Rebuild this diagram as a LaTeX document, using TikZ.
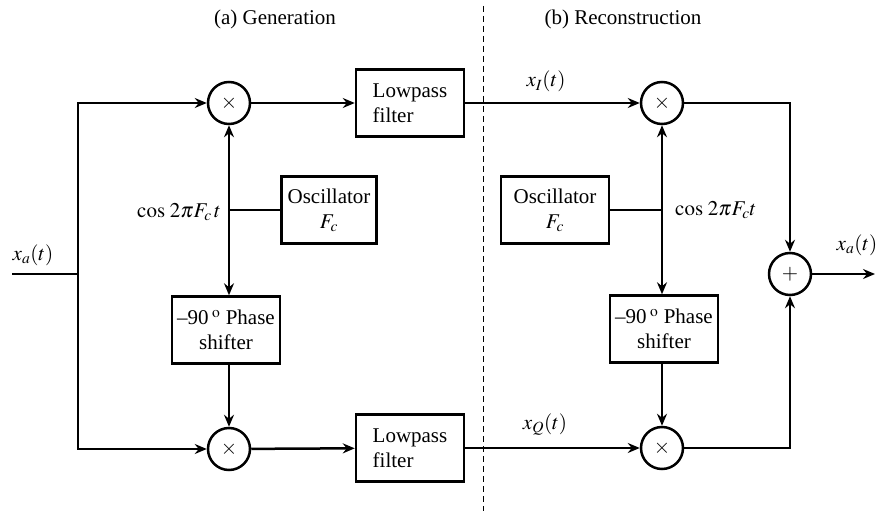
\documentclass[tikz,border=0pt]{standalone}
\usepackage{mathptmx}
\usepackage[no-math]{fontspec}
\setmainfont{Liberation Serif}
\usetikzlibrary{arrows.meta}
\begin{document}
\begin{tikzpicture}[x=1pt,y=-1pt,
  every node/.style={font=\fontsize{21}{25}\selectfont},
  wire/.style={line width=2.5pt},
  arr/.style={wire,-{Stealth[length=12pt,width=10pt,inset=4pt]}},
  blk/.style={draw,line width=2.5pt,minimum width=108pt,minimum height=67pt,inner sep=0pt,align=center},
  mult/.style={draw,circle,line width=2.5pt,minimum size=42pt,inner sep=0pt},
  lbl/.style={inner sep=0pt,anchor=base}
]
\useasboundingbox (0,0) rectangle (876,511);
% titles
\node[lbl] (ta) at (275,25) {(a) Generation};
\node[lbl] (tb) at (623,25) {(b) Reconstruction};
\draw[line width=1pt,dash pattern=on 6pt off 4pt] (483,6) -- (483,511);
% generation
\coordinate (in) at (12,274);
\coordinate (j) at (78,274);
\node[mult] (m1) at (229,103) {$\times$};
\node[mult] (m2) at (229,449) {$\times$};
\node[blk,align=left] (lp1) at (410,103) {Lowpass\\filter};
\node[blk,align=left] (lp2) at (410,448) {Lowpass\\filter};
\node[blk,minimum width=95pt] (osc1) at (329,210) {Oscillator\\$F_c$};
\node[blk] (ps1) at (226,330) {--90\,$^{\mathrm{o}}$ Phase\\shifter};
\coordinate (k1) at (229,210);
\draw[wire] (in) -- (j);
\draw[arr] (j) |- (m1);
\draw[arr] (j) |- (m2);
\draw[arr] (m1) -- (lp1);
\draw[arr] (m2) -- (lp2);
\draw[wire] (osc1) -- (k1);
\draw[arr] (k1) -- (m1);
\draw[arr] (k1) -- (ps1.north -| k1);
\draw[arr] (ps1.south -| k1) -- (m2);
\node[lbl,anchor=base east] (c1) at (221,217) {$\cos\,2\pi F_c\,t$};
\node[lbl] (xa1) at (33,260) {$x_a(t)$};
% reconstruction
\node[mult] (m3) at (662,103) {$\times$};
\node[mult] (m4) at (662,448) {$\times$};
\node[mult] (s) at (790,274) {$+$};
\node[blk] (osc2) at (555,210) {Oscillator\\$F_c$};
\node[blk] (ps2) at (664,329) {--90\,$^{\mathrm{o}}$ Phase\\shifter};
\coordinate (k2) at (662,210);
\coordinate (out) at (875,274);
\draw[arr] (lp1) -- (m3);
\draw[arr] (lp2.east |- m4) -- (m4);
\draw[wire] (osc2) -- (k2);
\draw[arr] (k2) -- (m3);
\draw[arr] (k2) -- (ps2.north -| k2);
\draw[arr] (ps2.south -| k2) -- (m4);
\draw[arr] (m3) -| (s);
\draw[arr] (m4) -| (s);
\draw[arr] (s) -- (out);
\node[lbl] (xi) at (546,87) {$x_I(t)$};
\node[lbl] (xq) at (545,429) {$x_Q(t)$};
\node[lbl,anchor=base west] (c2) at (675,215) {$\cos\,2\pi F_c t$};
\node[lbl] (xa2) at (857,250) {$x_a(t)$};
\end{tikzpicture}
\end{document}
